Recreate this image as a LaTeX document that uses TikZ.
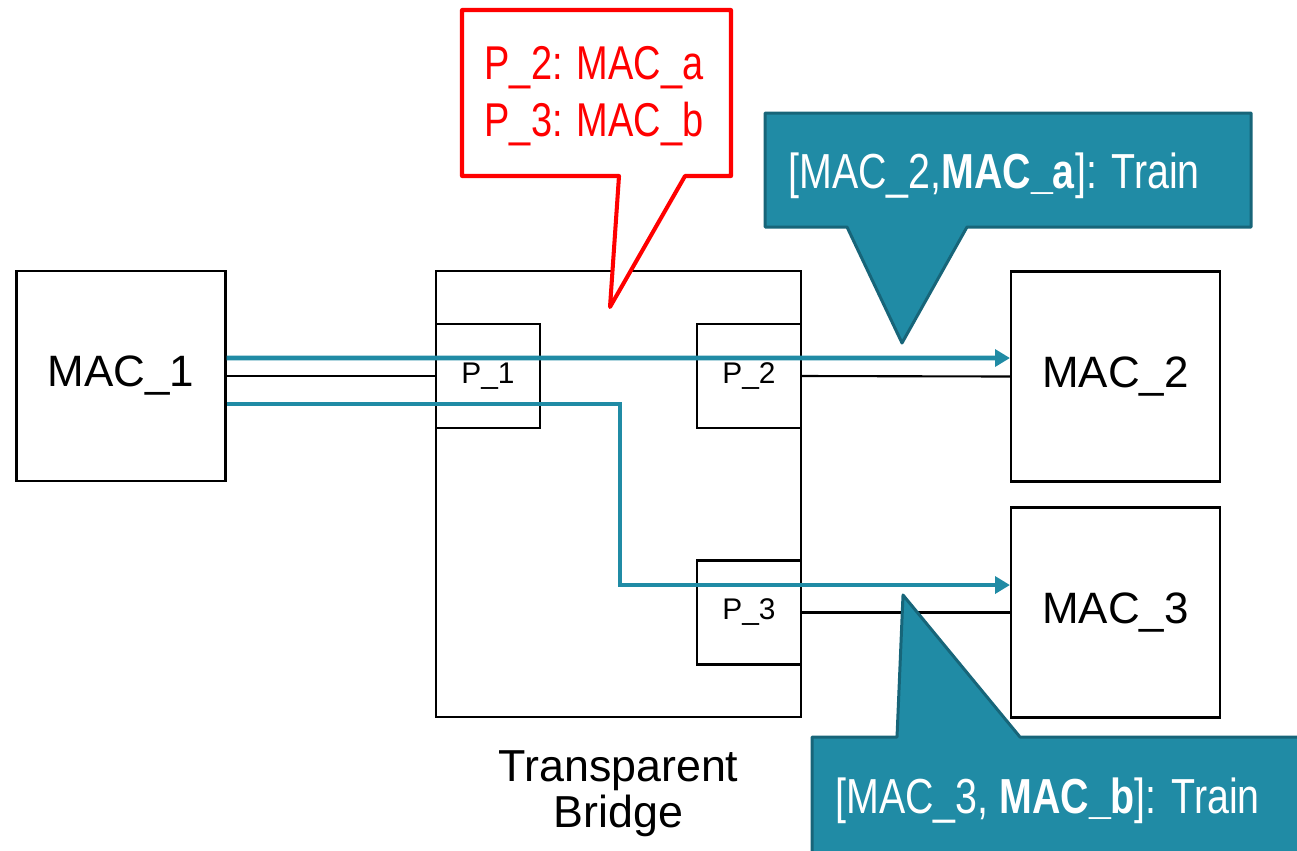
\documentclass[tikz,border=0pt]{standalone}
\usepackage{fontspec}
\setmainfont{Liberation Sans}
\newfontfamily\narrowfont[FakeStretch=0.8]{Liberation Sans}
\usetikzlibrary{arrows.meta,positioning}
\definecolor{flowblue}{RGB}{32,139,165}
\definecolor{calloutedge}{RGB}{23,101,121}
\begin{document}
\begin{tikzpicture}[x=0.02cm,y=-0.02cm]
% page size (pixels of the original)
\clip (0,0) rectangle (1297,850);
% size of a port box
\def\sz{2.08cm}
% node style definitions
\tikzstyle{station} = [
	draw, line width=1.2pt, rectangle, fill=white,
	minimum width=4.18cm, minimum height=4.2cm,
	font=\fontsize{25}{30}\selectfont ];
\tikzstyle{port} = [
	draw, line width=1.2pt, rectangle, fill=white,
	minimum size=\sz, font=\fontsize{17}{20}\selectfont ];
\tikzstyle{link} = [draw, line width=1.2pt];
\tikzstyle{flow} = [draw=flowblue, line width=2.8pt,
	-{Triangle[length=8.5pt,width=9.6pt]}];
\tikzstyle{redcall} = [draw=red, fill=white, line width=2.3pt, line join=round];
\tikzstyle{bluecall} = [draw=calloutedge, fill=flowblue, line width=1.7pt, line join=round];
\tikzstyle{bluetext} = [anchor=base west, inner sep=0, text=white,
	font=\narrowfont\fontsize{28}{34}\selectfont];
% bridge with its ports
\node[draw, line width=1.2pt, minimum width=7.3cm, minimum height=8.92cm] (bridge) at (618.5,494) {};
\node[port] (p1) at (488,376) {P\_1};
\node[port] (p2) at (749,376) {P\_2};
\node[port] (p3) at (749,612.5) {P\_3};
\node[inner sep=0, align=center, font=\fontsize{25.5}{26.5}\selectfont,
	below=0.64cm of bridge] (bridgelabel) {Transparent\\Bridge};
% end stations
\node[station] (mac1) at (121,376) {MAC\_1};
\node[station] (mac2) at (1115.5,376.5) {MAC\_2};
\node[station] (mac3) at (1115.5,612.5) {MAC\_3};
% wires
\draw[link] (mac1.east) -- (p1.west);
\draw[link] (p2.east) -- (mac2.west);
\draw[link] (p3.east) -- (mac3.west);
% frames
\coordinate (turn) at (620,500);
\draw[flow] ([yshift=0.36cm]mac1.east) -- ([yshift=0.37cm]mac2.west);
\draw[flow] ([yshift=-0.56cm]mac1.east) -| (turn) |- ([yshift=0.55cm]mac3.west);
% filtering table
\draw[redcall] (462,10) -- (731,10) -- (731,176) -- (685,176) -- (610,307)
	-- (619,176) -- (462,176) -- cycle;
\node[text=red, align=center, font=\narrowfont\fontsize{27}{32.5}\selectfont] (table) at (594,96)
	{P\_2: MAC\_a\\P\_3: MAC\_b};
% learned entries
\draw[bluecall] (765,113) -- (1251,113) -- (1251,227) -- (967,227) -- (902,343)
	-- (847,227) -- (765,227) -- cycle;
\node[bluetext] (learn2) at (788,188) {[MAC\_2,\textbf{MAC\_a}]: Train};
\draw[bluecall] (812,737) -- (897,737) -- (903,595) -- (1020,737) -- (1310,737)
	-- (1310,870) -- (812,870) -- cycle;
\node[bluetext] (learn3) at (835,813) {[MAC\_3, \textbf{MAC\_b}]: Train};
\end{tikzpicture}
\end{document}
